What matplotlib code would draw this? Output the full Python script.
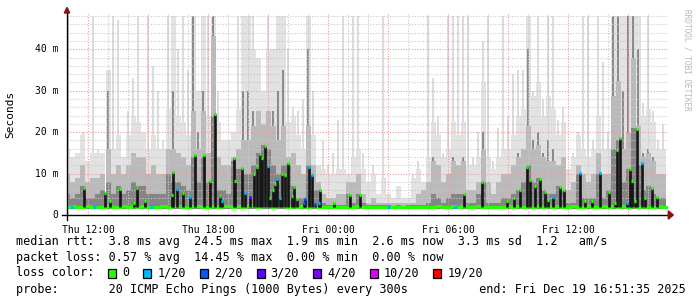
import matplotlib
matplotlib.use("Agg")
from matplotlib import pyplot as plt
from matplotlib.patches import Rectangle, Polygon
import numpy as np

# time axis in hours since Thu 00:00, one smoke column = 15 min
t_start = 10.86
col_w = 0.25

# smoke levels per column (ms): light = max ping, mid and dark = inner pings
light = [48,14,15,20,13,48,16,15,35,48, 47,14,25,33,48,20,48,36,30,18,
         48,48,40,48,35,48,30,48,48,48, 30,18,18,20,48,48,48,48,38,30,
         48,40,48,48,40,26,25,28,48,30, 12,18,12,15,23,48,10,48,48,15,
         8,12,5,48,5,4,7,4,4,10, 13,8,48,33,24,15,48,48,48,48,
         48,14,20,42,48,13,21,48,24,34, 35,35,48,30,48,28,48,48,23,26,
         11,15,20,48,48,18,48,37,20,48, 48,48,48,48,48,27,48,25,18,22]
mid = [10,8,9,12,8,9,9,10,30,10, 12,10,12,15,14,14,10,12,10,10,
       16,30,15,14,12,48,20,30,15,48, 14,12,12,14,16,30,30,25,25,22,
       25,25,30,35,14,15,12,10,40,12, 8,5,4,4,5,5,8,8,10,5,
       3,4,3,3,3,3,3,3,3,3, 5,6,8,14,12,8,10,14,12,14,
       6,6,8,20,8,5,8,10,10,12, 15,16,40,18,20,15,18,16,12,14,
       6,8,12,10,8,10,15,10,10,48, 48,30,48,48,40,15,16,14,10,10]
dark = [5,4,5,7,4,4,5,6,8,5, 7,5,6,8,7,7,5,5,5,5,
        10,8,8,7,6,14,8,14,8,24, 6,6,5,13,11,10,10,12,15,17,
        16,12,10,12,12,7,4,4,12,6, 6,3,2.5,2.5,2.5,2.5,5,3,5,3,
        2.5,2.5,2.3,2.3,2.3,2.2,2.3,2.2,2.3,2.3, 2.5,2.5,3,5,4,3,4,5,5,5,
        3,3,5,8,3,3,3,4,4,5, 6,8,12,8,9,6,5,5,7,6,
        3,3,10,4,4,4,10,4,6,16, 18,8,11,21,12,6,7,5,4,4]
base_med = [2.0,2.1,1.9,2.0,2.1,2.0,2.0,1.9,2.1,2.0, 2.0,2.1,2.0,2.2,2.0,2.1,2.0,1.9,2.0,2.1,
            2.0,2.2,2.1,2.0,2.0,2.1,2.2,2.0,2.0,2.1, 2.0,2.1,2.2,2.0,2.1,2.0,2.2,2.1,2.0,2.2,
            2.1,2.0,2.2,2.1,2.0,2.1,2.0,2.2,2.0,2.1, 2.0,2.0,1.9,2.0,2.0,1.9,2.0,2.0,2.1,2.0,
            2.0,1.9,2.0,2.0,1.9,2.0,2.0,1.9,2.0,2.0, 2.0,2.0,1.9,2.0,2.1,2.0,2.0,2.1,2.0,2.1,
            2.0,2.0,2.1,2.0,2.0,1.9,2.0,2.0,2.1,2.0, 2.1,2.0,2.2,2.0,2.1,2.0,2.2,2.0,2.1,2.0,
            2.0,2.1,2.0,2.0,2.1,2.0,2.0,2.1,2.0,2.1, 2.0,2.2,2.0,2.1,2.0,2.1,2.0,2.0,2.1,2.0]

# median spikes: time (h), median (ms), loss class
spk_t = [11.80,12.85,13.07,13.57,14.27,14.43,14.85,16.19,16.23,16.43,16.73,17.10,17.33,17.77,
         18.10,18.33,18.60,18.69,19.27,19.35,19.69,19.85,20.10,20.27,20.44,20.57,20.69,20.85,
         20.99,21.10,21.22,21.35,21.44,21.60,21.69,21.85,21.99,22.19,22.27,22.44,22.77,22.85,
         23.02,23.19,23.35,23.52,23.60,24.27,25.10,25.60,30.77,31.69,32.94,33.27,33.60,33.94,
         34.10,34.35,34.60,34.85,34.99,35.22,35.60,35.77,36.60,36.85,37.19,37.60,38.02,38.35,
         38.44,38.57,38.94,39.10,39.19,39.35,39.44,39.69,39.85,40.19,40.44]
spk_v = [6.4,5.4,3.5,6.3,3.0,6.4,3.3,4.8,10.3,6.2,5.2,4.3,14.6,14.6,
         8.1,24.4,4.6,3.4,13.8,8.1,11.4,5.2,4.3,10.0,11.7,14.7,13.8,16.7,
         11.9,4.0,6.0,7.4,8.8,4.2,9.9,9.7,12.5,4.6,6.8,3.9,2.8,3.8,
         11.7,9.7,2.6,3.0,6.0,3.0,4.8,4.8,5.0,7.9,3.4,4.0,6.0,11.7,
         8.4,7.1,8.7,5.6,3.6,4.4,6.7,6.0,10.2,3.4,3.4,10.2,5.6,3.0,
         15.8,18.5,3.0,11.1,8.3,3.4,20.8,12.5,4.0,6.4,4.3]
spk_c = [0,0,0,0,0,0,0,0,0,1,0,1,0,0,
         0,0,0,1,0,0,0,1,3,0,0,0,0,0,
         1,0,0,0,1,1,0,0,0,0,0,0,2,2,
         1,1,2,1,0,0,0,0,0,0,0,0,0,0,
         0,0,0,0,0,1,0,0,1,0,0,1,0,0,
         0,0,1,0,0,0,0,1,0,0,0]
# baseline samples with 1/20 loss
low_t = [11.15, 12.30, 15.15, 27.00, 30.35]

loss_colors = ['#26ff00', '#00b8ff', '#0059ff', '#5e00ff', '#7e00ff', '#dd00ff', '#ff0000']
loss_labels = ['0', '1/20', '2/20', '3/20', '4/20', '10/20', '19/20']

W, H = 697, 297
fig = plt.figure(figsize=(W / 100, H / 100), dpi=100)
ax = fig.add_axes([67 / W, 82 / H, 601 / W, 202 / H])
ax.set_xlim(10.935, 40.985)
ax.set_ylim(0, 48.76)
ax.axis('off')

x = t_start + col_w * np.arange(len(light))
lt = np.array(light, float)
md = np.array(mid, float)
dk = np.array(dark, float)
bot = 1.5
# body of the smoke fills the whole step, single high pings are thin
body = np.minimum(lt, np.maximum(md * 1.6, md + 6))
tall = lt > body
ax.bar(x[tall] + col_w * 0.5, lt[tall] - bot, bottom=bot, width=col_w * 0.5, color='#dcdcdc', lw=0, zorder=1)
ax.bar(x, body - bot, bottom=bot, width=col_w, align='edge', color='#e2e2e2', lw=0, zorder=1)
mbody = np.minimum(md, np.maximum(dk * 1.8, dk + 8))
mtall = md > mbody
ax.bar(x[mtall] + col_w * 0.5, md[mtall] - bot, bottom=bot, width=col_w * 0.4, color='#8a8a8a', lw=0, zorder=2)
ax.bar(x, mbody - bot, bottom=bot, width=col_w, align='edge', color='#bababa', lw=0, zorder=2)
ax.bar(x, dk - bot, bottom=bot, width=col_w, align='edge', color='#858585', lw=0, zorder=3)

# grid (rrdtool paints it over the graph)
for h in np.arange(11, 41, 1):
    c = '#e8a0a0' if h % 3 == 0 else '#c8c8c8'
    ax.axvline(h, color=c, lw=0.8, ls=(0, (1, 1.5)), zorder=4)
for v in np.arange(2, 49, 2):
    c = '#e8a0a0' if v % 10 == 0 else '#c8c8c8'
    ax.axhline(v, color=c, lw=0.8, ls=(0, (1, 1.5)), zorder=4)

# median line
ax.step(np.append(x, x[-1] + col_w), np.append(base_med, base_med[-1]), where='post',
        color=loss_colors[0], lw=2.2, zorder=5)
for t in low_t:
    ax.hlines(2.0, t - 0.06, t + 0.06, color=loss_colors[1], lw=2.4, zorder=6)
ax.vlines(spk_t, 1.9, spk_v, color='#151515', lw=1.9, zorder=5)
for t, v, c in zip(spk_t, spk_v, spk_c):
    ax.hlines(v, t - 0.05, t + 0.05, color=loss_colors[c], lw=2.4, zorder=6)

# axes with arrows
ax.plot([10.70, 40.985], [0, 0], color='#000000', lw=1, clip_on=False, zorder=7)
ax.plot([10.935, 10.935], [-1.2, 48.76], color='#000000', lw=1, clip_on=False, zorder=7)
ax.add_patch(Polygon([[41.00, 1.0], [41.00, -1.0], [41.25, 0]], closed=True, color='#8b1010',
                     clip_on=False, zorder=8))
ax.add_patch(Polygon([[10.80, 48.76], [11.07, 48.76], [10.935, 50.1]], closed=True, color='#8b1010',
                     clip_on=False, zorder=8))

# tick labels
mono = 'DejaVu Sans Mono'
xticks = [12, 18, 24, 30, 36]
xlabels = ['Thu 12:00', 'Thu 18:00', 'Fri 00:00', 'Fri 06:00', 'Fri 12:00']
for t, s in zip(xticks, xlabels):
    ax.text(t, -2.4, s, ha='center', va='top', family=mono, fontsize=7, color='#000000')
yticks = [0, 10, 20, 30, 40]
ylabels = ['0', '10 m', '20 m', '30 m', '40 m']
for v, s in zip(yticks, ylabels):
    ax.text(10.52, v, s, ha='right', va='center', family=mono, fontsize=7, color='#000000')


def fx(px):
    return px / W


def fy(py):
    return 1 - py / H


fig.text(fx(10), fy(114), 'Seconds', rotation=90, ha='center', va='center', family=mono, fontsize=8)
fig.text(fx(687), fy(60), 'RRDTOOL / TOBI OETIKER', rotation=-90, ha='center', va='center',
         family=mono, fontsize=5.6, color='#b8b8b8')

# legend
cw = 7.074
lx = 16
fs = 8.45
line1 = 'median rtt:  3.8 ms avg  24.5 ms max  1.9 ms min  2.6 ms now  3.3 ms sd  1.2   am/s'
line2 = 'packet loss: 0.57 % avg  14.45 % max  0.00 % min  0.00 % now'
line4 = 'probe:'.ljust(13) + '20 ICMP Echo Pings (1000 Bytes) every 300s'.ljust(52) + 'end: Fri Dec 19 16:51:35 2025'
fig.text(fx(lx), fy(241), line1, ha='left', va='center', family=mono, fontsize=fs)
fig.text(fx(lx), fy(257), line2, ha='left', va='center', family=mono, fontsize=fs)
fig.text(fx(lx), fy(273), 'loss color:', ha='left', va='center', family=mono, fontsize=fs)
fig.text(fx(lx), fy(289), line4, ha='left', va='center', family=mono, fontsize=fs)
box_pos = [13, 18, 26, 34, 42, 50, 59]
for c, col, lab in zip(box_pos, loss_colors, loss_labels):
    bx = lx + c * cw
    fig.patches.append(Rectangle((fx(bx), fy(278)), 8 / W, 9 / H, transform=fig.transFigure,
                                 facecolor=col, edgecolor='#000000', lw=0.9))
    fig.text(fx(lx + (c + 2) * cw), fy(273), lab, ha='left', va='center', family=mono, fontsize=fs)

fig.savefig('out.png', dpi=100, facecolor='white')
